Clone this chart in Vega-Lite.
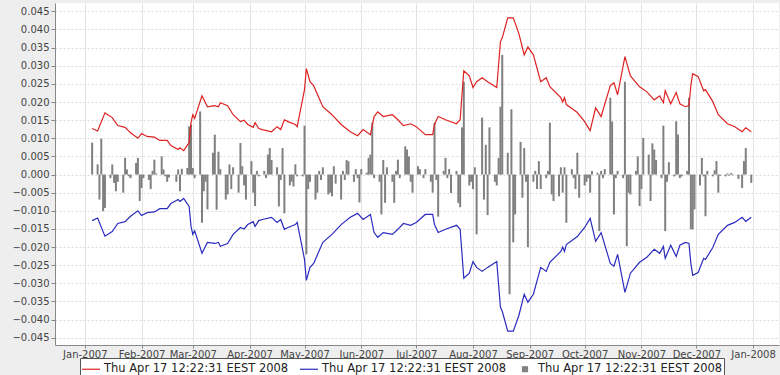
{
"$schema": "https://vega.github.io/schema/vega-lite/v6.json",
"width": 724, "height": 342,
"autosize": {"type": "none"},
"padding": {"left": 55, "top": 3, "right": 1, "bottom": 30},
"background": "#eeeeee",
"config": {"view": {"fill": "white", "stroke": null}, "font": "DejaVu Sans"},
"datasets": {
"band": [
{"date":"2007-01-05","upper":0.0127,"lower":-0.0127},
{"date":"2007-01-08","upper":0.012,"lower":-0.012},
{"date":"2007-01-12","upper":0.017,"lower":-0.017},
{"date":"2007-01-16","upper":0.0157,"lower":-0.0157},
{"date":"2007-01-19","upper":0.0135,"lower":-0.0135},
{"date":"2007-01-23","upper":0.013,"lower":-0.013},
{"date":"2007-01-26","upper":0.0115,"lower":-0.0115},
{"date":"2007-01-30","upper":0.010,"lower":-0.010},
{"date":"2007-02-01","upper":0.0113,"lower":-0.0113},
{"date":"2007-02-04","upper":0.0105,"lower":-0.0105},
{"date":"2007-02-08","upper":0.0103,"lower":-0.0103},
{"date":"2007-02-11","upper":0.0094,"lower":-0.0094},
{"date":"2007-02-15","upper":0.0094,"lower":-0.0094},
{"date":"2007-02-17","upper":0.008,"lower":-0.008},
{"date":"2007-02-21","upper":0.0069,"lower":-0.0069},
{"date":"2007-02-22","upper":0.0074,"lower":-0.0074},
{"date":"2007-02-24","upper":0.0066,"lower":-0.0066},
{"date":"2007-02-27","upper":0.0088,"lower":-0.0088},
{"date":"2007-02-28","upper":0.0143,"lower":-0.0143},
{"date":"2007-03-01","upper":0.0165,"lower":-0.0165},
{"date":"2007-03-02","upper":0.0155,"lower":-0.0155},
{"date":"2007-03-06","upper":0.0217,"lower":-0.0217},
{"date":"2007-03-09","upper":0.0187,"lower":-0.0187},
{"date":"2007-03-13","upper":0.019,"lower":-0.019},
{"date":"2007-03-15","upper":0.0187,"lower":-0.0187},
{"date":"2007-03-16","upper":0.0198,"lower":-0.0198},
{"date":"2007-03-20","upper":0.019,"lower":-0.019},
{"date":"2007-03-23","upper":0.0165,"lower":-0.0165},
{"date":"2007-03-27","upper":0.0146,"lower":-0.0146},
{"date":"2007-03-29","upper":0.015,"lower":-0.015},
{"date":"2007-03-31","upper":0.0138,"lower":-0.0138},
{"date":"2007-04-03","upper":0.013,"lower":-0.013},
{"date":"2007-04-04","upper":0.0143,"lower":-0.0143},
{"date":"2007-04-06","upper":0.0127,"lower":-0.0127},
{"date":"2007-04-08","upper":0.0124,"lower":-0.0124},
{"date":"2007-04-13","upper":0.0118,"lower":-0.0118},
{"date":"2007-04-16","upper":0.0132,"lower":-0.0132},
{"date":"2007-04-18","upper":0.0124,"lower":-0.0124},
{"date":"2007-04-20","upper":0.0151,"lower":-0.0151},
{"date":"2007-04-22","upper":0.0146,"lower":-0.0146},
{"date":"2007-04-26","upper":0.0138,"lower":-0.0138},
{"date":"2007-04-27","upper":0.0132,"lower":-0.0132},
{"date":"2007-05-01","upper":0.0234,"lower":-0.0234},
{"date":"2007-05-02","upper":0.0292,"lower":-0.0292},
{"date":"2007-05-04","upper":0.0256,"lower":-0.0256},
{"date":"2007-05-06","upper":0.0245,"lower":-0.0245},
{"date":"2007-05-11","upper":0.0187,"lower":-0.0187},
{"date":"2007-05-16","upper":0.0165,"lower":-0.0165},
{"date":"2007-05-21","upper":0.0138,"lower":-0.0138},
{"date":"2007-05-26","upper":0.0118,"lower":-0.0118},
{"date":"2007-05-30","upper":0.0107,"lower":-0.0107},
{"date":"2007-06-02","upper":0.0124,"lower":-0.0124},
{"date":"2007-06-06","upper":0.011,"lower":-0.011},
{"date":"2007-06-08","upper":0.016,"lower":-0.016},
{"date":"2007-06-10","upper":0.0173,"lower":-0.0173},
{"date":"2007-06-13","upper":0.016,"lower":-0.016},
{"date":"2007-06-18","upper":0.0165,"lower":-0.0165},
{"date":"2007-06-21","upper":0.0151,"lower":-0.0151},
{"date":"2007-06-24","upper":0.0135,"lower":-0.0135},
{"date":"2007-06-28","upper":0.014,"lower":-0.014},
{"date":"2007-07-01","upper":0.0132,"lower":-0.0132},
{"date":"2007-07-06","upper":0.011,"lower":-0.011},
{"date":"2007-07-10","upper":0.011,"lower":-0.011},
{"date":"2007-07-11","upper":0.0138,"lower":-0.0138},
{"date":"2007-07-13","upper":0.016,"lower":-0.016},
{"date":"2007-07-17","upper":0.0151,"lower":-0.0151},
{"date":"2007-07-23","upper":0.014,"lower":-0.014},
{"date":"2007-07-25","upper":0.0151,"lower":-0.0151},
{"date":"2007-07-27","upper":0.0286,"lower":-0.0286},
{"date":"2007-07-30","upper":0.0272,"lower":-0.0272},
{"date":"2007-08-01","upper":0.024,"lower":-0.024},
{"date":"2007-08-03","upper":0.0256,"lower":-0.0256},
{"date":"2007-08-06","upper":0.0267,"lower":-0.0267},
{"date":"2007-08-09","upper":0.0256,"lower":-0.0256},
{"date":"2007-08-14","upper":0.024,"lower":-0.024},
{"date":"2007-08-16","upper":0.0366,"lower":-0.0366},
{"date":"2007-08-17","upper":0.0377,"lower":-0.0377},
{"date":"2007-08-20","upper":0.0432,"lower":-0.0432},
{"date":"2007-08-23","upper":0.0432,"lower":-0.0432},
{"date":"2007-08-26","upper":0.039,"lower":-0.039},
{"date":"2007-08-29","upper":0.033,"lower":-0.033},
{"date":"2007-08-31","upper":0.0352,"lower":-0.0352},
{"date":"2007-09-03","upper":0.033,"lower":-0.033},
{"date":"2007-09-07","upper":0.0256,"lower":-0.0256},
{"date":"2007-09-10","upper":0.0267,"lower":-0.0267},
{"date":"2007-09-12","upper":0.0242,"lower":-0.0242},
{"date":"2007-09-18","upper":0.0212,"lower":-0.0212},
{"date":"2007-09-19","upper":0.0200,"lower":-0.0200},
{"date":"2007-09-20","upper":0.0212,"lower":-0.0212},
{"date":"2007-09-21","upper":0.0193,"lower":-0.0193},
{"date":"2007-09-27","upper":0.0171,"lower":-0.0171},
{"date":"2007-10-01","upper":0.0146,"lower":-0.0146},
{"date":"2007-10-04","upper":0.0121,"lower":-0.0121},
{"date":"2007-10-07","upper":0.0184,"lower":-0.0184},
{"date":"2007-10-10","upper":0.016,"lower":-0.016},
{"date":"2007-10-15","upper":0.0245,"lower":-0.0245},
{"date":"2007-10-17","upper":0.0253,"lower":-0.0253},
{"date":"2007-10-19","upper":0.022,"lower":-0.022},
{"date":"2007-10-23","upper":0.0325,"lower":-0.0325},
{"date":"2007-10-26","upper":0.0272,"lower":-0.0272},
{"date":"2007-10-31","upper":0.0242,"lower":-0.0242},
{"date":"2007-11-04","upper":0.0228,"lower":-0.0228},
{"date":"2007-11-08","upper":0.0206,"lower":-0.0206},
{"date":"2007-11-11","upper":0.0217,"lower":-0.0217},
{"date":"2007-11-13","upper":0.0198,"lower":-0.0198},
{"date":"2007-11-14","upper":0.0231,"lower":-0.0231},
{"date":"2007-11-17","upper":0.0195,"lower":-0.0195},
{"date":"2007-11-20","upper":0.0226,"lower":-0.0226},
{"date":"2007-11-22","upper":0.0195,"lower":-0.0195},
{"date":"2007-11-25","upper":0.0187,"lower":-0.0187},
{"date":"2007-11-27","upper":0.019,"lower":-0.019},
{"date":"2007-11-28","upper":0.0245,"lower":-0.0245},
{"date":"2007-11-29","upper":0.0278,"lower":-0.0278},
{"date":"2007-12-02","upper":0.027,"lower":-0.027},
{"date":"2007-12-05","upper":0.0231,"lower":-0.0231},
{"date":"2007-12-06","upper":0.0234,"lower":-0.0234},
{"date":"2007-12-10","upper":0.0201,"lower":-0.0201},
{"date":"2007-12-13","upper":0.0165,"lower":-0.0165},
{"date":"2007-12-18","upper":0.014,"lower":-0.014},
{"date":"2007-12-22","upper":0.0132,"lower":-0.0132},
{"date":"2007-12-26","upper":0.0118,"lower":-0.0118},
{"date":"2007-12-28","upper":0.0129,"lower":-0.0129},
{"date":"2007-12-31","upper":0.0118,"lower":-0.0118}
],
"ret": [
{"date":"2007-01-05","ret":0.0088},{"date":"2007-01-08","ret":0.0028},{"date":"2007-01-09","ret":-0.0069},{"date":"2007-01-10","ret":0.0099},{"date":"2007-01-11","ret":-0.0101},{"date":"2007-01-12","ret":-0.0092},{"date":"2007-01-15","ret":-0.001},{"date":"2007-01-16","ret":0.0028},{"date":"2007-01-17","ret":-0.0023},{"date":"2007-01-18","ret":-0.0046},{"date":"2007-01-19","ret":-0.002},{"date":"2007-01-22","ret":-0.005},{"date":"2007-01-23","ret":0.0046},{"date":"2007-01-24","ret":0.0014},{"date":"2007-01-25","ret":-0.0005},{"date":"2007-01-26","ret":-0.001},{"date":"2007-01-29","ret":0.0032},{"date":"2007-01-30","ret":0.0046},{"date":"2007-01-31","ret":-0.0073},
{"date":"2007-02-01","ret":-0.0037},{"date":"2007-02-02","ret":-0.001},{"date":"2007-02-05","ret":-0.0015},{"date":"2007-02-06","ret":-0.004},{"date":"2007-02-07","ret":0.001},{"date":"2007-02-08","ret":0.0041},{"date":"2007-02-09","ret":0.0003},{"date":"2007-02-12","ret":0.005},{"date":"2007-02-13","ret":0.0014},{"date":"2007-02-14","ret":-0.0005},{"date":"2007-02-15","ret":-0.002},{"date":"2007-02-16","ret":-0.0008},{"date":"2007-02-20","ret":-0.002},{"date":"2007-02-21","ret":0.0014},{"date":"2007-02-22","ret":-0.0046},{"date":"2007-02-23","ret":0.0016},{"date":"2007-02-26","ret":0.0018},{"date":"2007-02-27","ret":0.0133},{"date":"2007-02-28","ret":0.0138},
{"date":"2007-03-01","ret":0.0018},{"date":"2007-03-02","ret":-0.001},{"date":"2007-03-05","ret":0.0174},{"date":"2007-03-06","ret":-0.0133},{"date":"2007-03-07","ret":-0.0046},{"date":"2007-03-08","ret":-0.002},{"date":"2007-03-09","ret":-0.0096},{"date":"2007-03-12","ret":0.006},{"date":"2007-03-13","ret":0.011},{"date":"2007-03-14","ret":-0.0097},{"date":"2007-03-15","ret":0.0063},{"date":"2007-03-16","ret":0.0015},{"date":"2007-03-19","ret":-0.0069},{"date":"2007-03-20","ret":-0.0055},{"date":"2007-03-21","ret":0.0028},{"date":"2007-03-22","ret":-0.004},{"date":"2007-03-23","ret":0.002},{"date":"2007-03-26","ret":-0.005},{"date":"2007-03-27","ret":0.0087},{"date":"2007-03-28","ret":0.0023},{"date":"2007-03-29","ret":-0.003},{"date":"2007-03-30","ret":-0.0069},
{"date":"2007-04-02","ret":0.0037},{"date":"2007-04-03","ret":-0.005},{"date":"2007-04-04","ret":-0.0087},{"date":"2007-04-05","ret":0.001},{"date":"2007-04-06","ret":-0.0005},{"date":"2007-04-09","ret":0.001},{"date":"2007-04-10","ret":-0.001},{"date":"2007-04-11","ret":0.0055},{"date":"2007-04-12","ret":0.0073},{"date":"2007-04-13","ret":0.004},{"date":"2007-04-16","ret":0.002},{"date":"2007-04-17","ret":-0.0088},{"date":"2007-04-18","ret":-0.0015},{"date":"2007-04-19","ret":0.0073},{"date":"2007-04-20","ret":-0.0107},{"date":"2007-04-23","ret":-0.003},{"date":"2007-04-24","ret":-0.002},{"date":"2007-04-25","ret":-0.0033},{"date":"2007-04-26","ret":0.0028},{"date":"2007-04-27","ret":-0.0005},{"date":"2007-04-30","ret":-0.0005},
{"date":"2007-05-01","ret":0.0135},{"date":"2007-05-02","ret":-0.022},{"date":"2007-05-03","ret":-0.004},{"date":"2007-05-04","ret":-0.002},{"date":"2007-05-07","ret":-0.0069},{"date":"2007-05-08","ret":-0.005},{"date":"2007-05-09","ret":0.001},{"date":"2007-05-10","ret":-0.0015},{"date":"2007-05-11","ret":0.002},{"date":"2007-05-14","ret":-0.0055},{"date":"2007-05-15","ret":-0.005},{"date":"2007-05-16","ret":-0.006},{"date":"2007-05-17","ret":0.0023},{"date":"2007-05-18","ret":-0.0025},{"date":"2007-05-21","ret":-0.0069},{"date":"2007-05-22","ret":0.001},{"date":"2007-05-23","ret":-0.0015},{"date":"2007-05-24","ret":0.004},{"date":"2007-05-25","ret":0.0037},{"date":"2007-05-28","ret":-0.002},{"date":"2007-05-29","ret":0.0015},{"date":"2007-05-30","ret":-0.001},{"date":"2007-05-31","ret":-0.0077},
{"date":"2007-06-01","ret":0.0015},{"date":"2007-06-04","ret":0.0005},{"date":"2007-06-05","ret":0.0046},{"date":"2007-06-06","ret":0.0055},{"date":"2007-06-07","ret":0.0143},{"date":"2007-06-08","ret":-0.001},{"date":"2007-06-11","ret":-0.002},{"date":"2007-06-12","ret":-0.011},{"date":"2007-06-13","ret":0.004},{"date":"2007-06-14","ret":-0.0078},{"date":"2007-06-15","ret":0.002},{"date":"2007-06-18","ret":-0.002},{"date":"2007-06-19","ret":-0.0078},{"date":"2007-06-20","ret":0.001},{"date":"2007-06-21","ret":0.0041},{"date":"2007-06-22","ret":-0.001},{"date":"2007-06-25","ret":0.0078},{"date":"2007-06-26","ret":0.0069},{"date":"2007-06-27","ret":0.005},{"date":"2007-06-28","ret":-0.002},{"date":"2007-06-29","ret":-0.005},
{"date":"2007-07-02","ret":0.0023},{"date":"2007-07-03","ret":0.0015},{"date":"2007-07-05","ret":-0.001},{"date":"2007-07-06","ret":0.0015},{"date":"2007-07-09","ret":-0.002},{"date":"2007-07-10","ret":-0.005},{"date":"2007-07-11","ret":0.0143},{"date":"2007-07-12","ret":-0.0015},{"date":"2007-07-13","ret":-0.0116},{"date":"2007-07-16","ret":0.001},{"date":"2007-07-17","ret":0.0046},{"date":"2007-07-18","ret":-0.001},{"date":"2007-07-19","ret":0.0015},{"date":"2007-07-20","ret":-0.0051},{"date":"2007-07-23","ret":0.001},{"date":"2007-07-24","ret":-0.0078},{"date":"2007-07-25","ret":-0.009},{"date":"2007-07-26","ret":0.013},{"date":"2007-07-27","ret":0.0256},{"date":"2007-07-30","ret":-0.003},{"date":"2007-07-31","ret":-0.002},
{"date":"2007-08-01","ret":-0.004},{"date":"2007-08-02","ret":0.002},{"date":"2007-08-03","ret":-0.0165},{"date":"2007-08-06","ret":0.0157},{"date":"2007-08-07","ret":-0.0069},{"date":"2007-08-08","ret":0.0082},{"date":"2007-08-09","ret":-0.0112},{"date":"2007-08-10","ret":0.013},{"date":"2007-08-13","ret":-0.002},{"date":"2007-08-14","ret":-0.003},{"date":"2007-08-15","ret":0.0046},{"date":"2007-08-16","ret":0.0187},{"date":"2007-08-17","ret":0.033},{"date":"2007-08-20","ret":0.006},{"date":"2007-08-21","ret":-0.033},{"date":"2007-08-22","ret":0.018},{"date":"2007-08-23","ret":-0.0187},{"date":"2007-08-24","ret":-0.011},{"date":"2007-08-27","ret":0.009},{"date":"2007-08-28","ret":-0.0064},{"date":"2007-08-29","ret":0.0073},{"date":"2007-08-30","ret":-0.002},{"date":"2007-08-31","ret":-0.02},
{"date":"2007-09-03","ret":-0.002},{"date":"2007-09-04","ret":0.001},{"date":"2007-09-05","ret":-0.004},{"date":"2007-09-06","ret":0.0037},{"date":"2007-09-07","ret":-0.004},{"date":"2007-09-10","ret":-0.001},{"date":"2007-09-11","ret":0.001},{"date":"2007-09-12","ret":0.0143},{"date":"2007-09-13","ret":-0.0055},{"date":"2007-09-14","ret":-0.0073},{"date":"2007-09-17","ret":-0.006},{"date":"2007-09-18","ret":0.002},{"date":"2007-09-19","ret":-0.005},{"date":"2007-09-20","ret":0.002},{"date":"2007-09-21","ret":-0.0133},{"date":"2007-09-24","ret":0.0015},{"date":"2007-09-25","ret":-0.001},{"date":"2007-09-26","ret":-0.004},{"date":"2007-09-27","ret":0.006},{"date":"2007-09-28","ret":-0.0064},
{"date":"2007-10-01","ret":-0.003},{"date":"2007-10-02","ret":-0.002},{"date":"2007-10-03","ret":-0.001},{"date":"2007-10-04","ret":-0.005},{"date":"2007-10-05","ret":0.001},{"date":"2007-10-08","ret":0.0005},{"date":"2007-10-09","ret":-0.0156},{"date":"2007-10-10","ret":0.001},{"date":"2007-10-11","ret":-0.001},{"date":"2007-10-12","ret":0.0015},{"date":"2007-10-15","ret":0.0212},{"date":"2007-10-16","ret":0.0146},{"date":"2007-10-17","ret":-0.011},{"date":"2007-10-18","ret":-0.001},{"date":"2007-10-19","ret":0.001},{"date":"2007-10-22","ret":-0.001},{"date":"2007-10-23","ret":0.0256},{"date":"2007-10-24","ret":-0.0198},{"date":"2007-10-25","ret":-0.005},{"date":"2007-10-26","ret":-0.0055},{"date":"2007-10-29","ret":0.001},{"date":"2007-10-30","ret":0.005},{"date":"2007-10-31","ret":-0.0087},
{"date":"2007-11-01","ret":-0.004},{"date":"2007-11-02","ret":0.0101},{"date":"2007-11-05","ret":0.0055},{"date":"2007-11-06","ret":-0.0073},{"date":"2007-11-07","ret":0.0086},{"date":"2007-11-08","ret":0.0069},{"date":"2007-11-09","ret":0.004},{"date":"2007-11-12","ret":-0.001},{"date":"2007-11-13","ret":0.0135},{"date":"2007-11-14","ret":-0.0156},{"date":"2007-11-15","ret":-0.002},{"date":"2007-11-16","ret":0.0034},{"date":"2007-11-19","ret":-0.0005},{"date":"2007-11-20","ret":0.0147},{"date":"2007-11-21","ret":0.011},{"date":"2007-11-22","ret":-0.001},{"date":"2007-11-23","ret":-0.0005},{"date":"2007-11-26","ret":0.001},{"date":"2007-11-27","ret":0.0212},{"date":"2007-11-28","ret":-0.0151},{"date":"2007-11-29","ret":-0.0151},{"date":"2007-11-30","ret":-0.0096},
{"date":"2007-12-03","ret":-0.003},{"date":"2007-12-04","ret":0.0046},{"date":"2007-12-05","ret":-0.0005},{"date":"2007-12-06","ret":-0.0115},{"date":"2007-12-07","ret":0.001},{"date":"2007-12-10","ret":-0.0005},{"date":"2007-12-11","ret":0.0012},{"date":"2007-12-12","ret":0.0037},{"date":"2007-12-13","ret":-0.005},{"date":"2007-12-14","ret":-0.0003},{"date":"2007-12-17","ret":-0.0005},{"date":"2007-12-18","ret":0.0003},{"date":"2007-12-19","ret":-0.0003},{"date":"2007-12-20","ret":0.0004},{"date":"2007-12-21","ret":-0.0002},{"date":"2007-12-24","ret":-0.0012},{"date":"2007-12-26","ret":-0.0037},{"date":"2007-12-27","ret":0.0037},{"date":"2007-12-28","ret":0.0073},{"date":"2007-12-31","ret":-0.0023}
]
},
"encoding": {
"x": {"field": "date", "type": "temporal", "title": null,
"scale": {"type": "utc", "domain": [{"year": 2006, "month": 12, "date": 18, "hours": 11, "utc": true}, {"year": 2008, "month": 1, "date": 12, "hours": 10, "utc": true}]},
"axis": {"tickCount": {"interval": "month", "step": 1}, "format": "%b-%Y", "labelOverlap": false, "labelBound": false, "labelFlush": false,
"labelFontSize": 10, "labelColor": "#444444", "labelFont": "DejaVu Sans", "labelPadding": 1,
"domainColor": "#888888", "tickColor": "#888888", "tickSize": 3,
"grid": true, "gridColor": "#e2e2e2", "gridWidth": 1}}
},
"layer": [
{"data": {"name": "ret"}, "mark": {"type": "bar", "size": 2},
"encoding": {
"y": {"field": "ret", "type": "quantitative", "title": null,
"scale": {"domain": [-0.0470, 0.0473], "nice": false, "zero": false},
"axis": {"values": [-0.045,-0.04,-0.035,-0.03,-0.025,-0.02,-0.015,-0.01,-0.005,0,0.005,0.01,0.015,0.02,0.025,0.03,0.035,0.04,0.045], "tickCount": 40, "format": ".3f",
"labelOverlap": false, "labelBound": false, "labelFlush": false,
"labelFontSize": 10, "labelColor": "#444444", "labelFont": "DejaVu Sans", "labelPadding": 2,
"domainColor": "#888888", "tickColor": "#888888", "tickSize": 4,
"grid": true, "gridColor": "#d9d9d9", "gridDash": [2, 2], "gridWidth": 1}},
"color": {"datum": "C", "type": "nominal",
"scale": {"domain": ["A", "B", "C"], "range": ["#dd2222", "#2b2bc0", "#808080"]},
"legend": {"title": null, "orient": "none", "legendX": 25, "legendY": 355, "direction": "horizontal",
"labelExpr": "'Thu Apr 17 12:22:31 EEST 2008'", "labelFontSize": 11.5, "labelFont": "DejaVu Sans", "labelColor": "#222222", "labelLimit": 400, "labelOffset": 3,
"columnPadding": 8, "padding": 1, "strokeColor": "#555555", "fillColor": "#ffffff",
"symbolType": "stroke", "symbolSize": 324, "symbolStrokeWidth": 1.2,
"encode": {"symbols": {"update": {
"shape": {"signal": "datum.value === 'C' ? 'square' : 'stroke'"},
"size": {"signal": "datum.value === 'C' ? 25 : 324"},
"fill": {"signal": "datum.value === 'C' ? '#808080' : 'transparent'"},
"stroke": {"signal": "datum.value === 'A' ? '#dd2222' : (datum.value === 'B' ? '#2b2bc0' : 'transparent')"},
"opacity": {"value": 1}}}}}}
}},
{"data": {"name": "band"}, "mark": {"type": "line", "strokeWidth": 1.2},
"encoding": {"y": {"field": "upper", "type": "quantitative", "title": null}, "color": {"datum": "A", "type": "nominal"}}},
{"data": {"name": "band"}, "mark": {"type": "line", "strokeWidth": 1.2},
"encoding": {"y": {"field": "lower", "type": "quantitative", "title": null}, "color": {"datum": "B", "type": "nominal"}}}
]
}
